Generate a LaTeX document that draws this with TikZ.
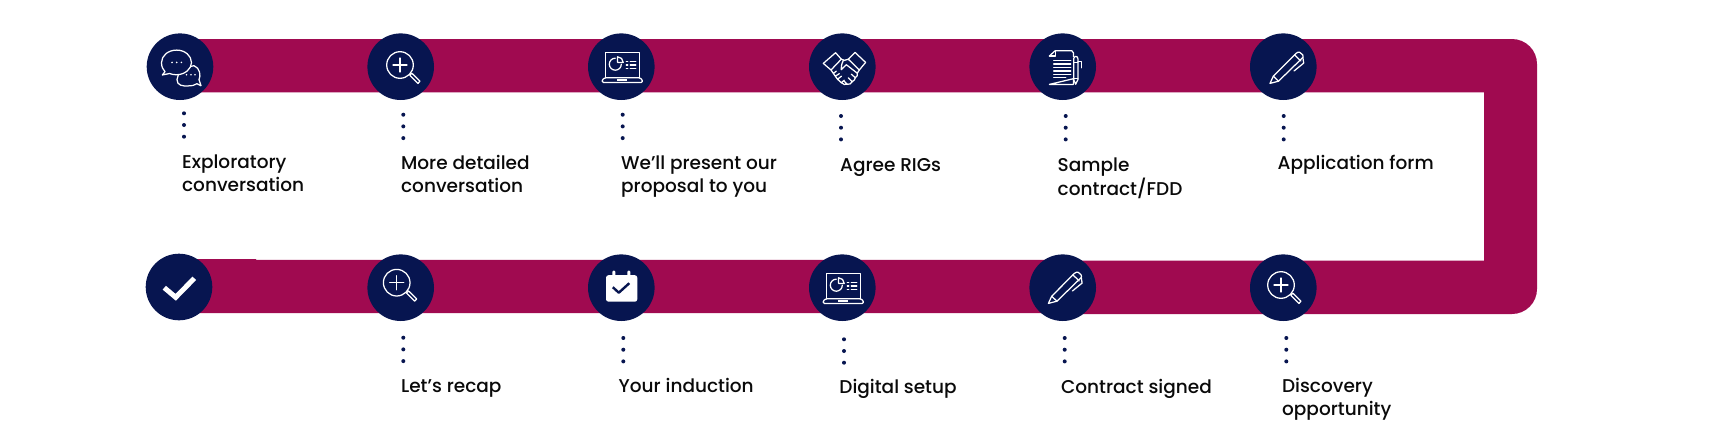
\documentclass[tikz,border=0pt]{standalone}
\usepackage{fontspec}
\usetikzlibrary{calc}
\setmainfont{Poppins Medium}
\definecolor{band}{HTML}{A00A50}
\definecolor{navy}{HTML}{071550}
\definecolor{ink}{HTML}{0A0A0A}
\tikzset{
  stepdisc/.style={circle,fill=navy,minimum size=66.6pt,inner sep=0pt},
  dotmark/.style={circle,fill=navy,minimum size=4pt,inner sep=0pt},
  steplabel/.style={anchor=base west,inner sep=0pt,xshift=-0.8pt,text=ink,align=left,font=\fontsize{18.5}{23}\selectfont},
  iconline/.style={draw=white,line width=1.25pt,line join=round,line cap=round},
  pics/lensicon/.style={code={
    \draw[iconline] (0,0) circle (13.3);
    \draw[iconline] (-7,0) -- (7,0) (0,-7) -- (0,7);
    \draw[iconline] (9.8,10.2) -- (11.8,8.2) -- (20,16.2) -- (18,18.4) -- cycle;
  }},
  pics/laptopicon/.style={code={
    \draw[iconline] (-16,11) -- (-16,-14.5) -- (18,-14.5) -- (18,11);
    \draw[iconline,rounded corners=1pt] (-16,11) -- (18,11) -- (21,13) -- (21,15.7) -- (-19,15.7) -- (-19,13) -- cycle;
    \draw[white,line width=1.6pt] (-4,13.2) -- (6,13.2);
    \draw[iconline] (-6,-8.5) arc (-90:-360:6);
    \draw[iconline] (-3.7,-10) -- (-3.7,-4.3) -- (1.9,-4.3) arc (0:-90:5.6) -- cycle;
    \draw[iconline] (5,-5.5) -- (6.5,-5.5) (9,-5.5) -- (14.5,-5.5)
      (5,-1.8) -- (6.5,-1.8) (9,-1.8) -- (14.5,-1.8)
      (5,2) -- (6.5,2) (9,2) -- (14.5,2);
  }},
  pics/penicon/.style={code={
    \draw[iconline] (-13.3,16.7) -- (-10,9.5) -- (12.7,-13.3) .. controls (15,-15.5) and (18,-14.5) .. (19.3,-12) .. controls (20,-10.5) and (20,-9.5) .. (19.3,-9) -- (-4.8,14.5) -- cycle;
    \draw[iconline] (-10,9.5) -- (-4.8,14.5);
    \draw[iconline] (19.6,-9) -- (20.4,-3.6) -- (10.7,4.3);
    \draw[iconline] (11.2,-11.8) -- (17.5,-5.8);
  }}
}
\begin{document}
\begin{tikzpicture}[x=1pt,y=-1pt]
\useasboundingbox[fill=white] (0,0) rectangle (1709,447);
% ribbon
\fill[band] (180,39) -- (1512,39) arc (-90:0:25) -- (1537,289) arc (0:90:25)
  -- (1062,314) -- (1062,313) -- (180,313) -- (180,259) -- (256,259) -- (256,259.8)
  -- (1062,259.8) -- (1062,260.7) -- (1484,260.7) -- (1484,92.3) -- (180,92.3) -- cycle;
% discs
\node[stepdisc] (a1) at (180,66.7) {};
\node[stepdisc] (a2) at (400.7,66.7) {};
\node[stepdisc] (a3) at (621.3,66.7) {};
\node[stepdisc] (a4) at (842.3,66.7) {};
\node[stepdisc] (a5) at (1062.7,66.7) {};
\node[stepdisc] (a6) at (1283.3,66.7) {};
\node[stepdisc] (b1) at (179,287) {};
\node[stepdisc] (b2) at (400.7,287.7) {};
\node[stepdisc] (b3) at (621.3,287.7) {};
\node[stepdisc] (b4) at (842.3,287.7) {};
\node[stepdisc] (b5) at (1062.7,287.7) {};
\node[stepdisc] (b6) at (1283.3,287.7) {};
% dots
\foreach \n/\x/\y in {da/184/113.3,db/403.3/114.7,dc/622.7/114.7,dd/841/116,de/1065.7/116,df/1283.7/116,
  dg/403.3/337.7,dh/623.3/338,di/844/339.3,dj/1064.7/338,dk/1286.3/338}{
  \node[dotmark] (\n1) at (\x,\y) {};
  \node[dotmark] (\n2) at (\x,\y+11.7) {};
  \node[dotmark] (\n3) at (\x,\y+23.4) {};
}
% labels
\node[steplabel] (l1) at (182.7,168) {Exploratory};
\node[steplabel] (l1b) at (182.7,191.7) {conversation};
\node[steplabel] (l2) at (401.7,169.3) {More detailed};
\node[steplabel] (l2b) at (401.7,192) {conversation};
\node[steplabel] (l3) at (621.7,169.3) {We’ll present our};
\node[steplabel] (l3b) at (621.7,192.7) {proposal to you};
\node[steplabel] (l4) at (840.7,171.7) {Agree RIGs};
\node[steplabel] (l5) at (1058.3,171.7) {Sample};
\node[steplabel] (l5b) at (1058.3,195) {contract/FDD};
\node[steplabel] (l6) at (1278.3,169.3) {Application form};
\node[steplabel] (l7) at (401.7,392.7) {Let’s recap};
\node[steplabel] (l8) at (619.3,392.7) {Your induction};
\node[steplabel] (l9) at (840,393.3) {Digital setup};
\node[steplabel] (l10) at (1061.7,393) {Contract signed};
\node[steplabel] (l11) at (1282.7,392.7) {Discovery};
\node[steplabel] (l11b) at (1282.7,415) {opportunity};
% chat icon
\begin{scope}[shift={(a1.center)}]
  \draw[iconline,fill=navy] (-3,13) .. controls (-3,19) and (3,19.5) .. (8,19.2) .. controls (12,19.2) and (15,18.5) .. (17,17) -- (21,19) -- (19,13) .. controls (21,9) and (20,1) .. (14,-1) -- (0,2) -- cycle;
  \draw[iconline,fill=navy] (-3.3,-16.6) .. controls (-12,-16.6) and (-18.5,-11) .. (-18.5,-4) .. controls (-18.5,0) and (-17,3) .. (-15,5) -- (-17.7,8.3) -- (-10.5,6.8) .. controls (-8,8) and (-5.5,8) .. (-3.3,8) .. controls (5,8) and (11.5,2) .. (11.5,-4) .. controls (11.5,-11) and (5,-16.6) .. (-3.3,-16.6) -- cycle;
  \foreach \q in {-8,-3.3,1.4}{\fill[white] (\q,-4.3) circle (0.9);}
  \foreach \q in {6.5,11,15}{\fill[white] (\q,8) circle (0.9);}
\end{scope}
% lens icons
\pic at ($(a2.center)+(-0.7,-1.7)$) {lensicon};
\pic at ($(b2.center)+(-4,-5)$) {lensicon};
\pic at ($(b6.center)+(-2.3,-2.7)$) {lensicon};
% laptops
\pic at (a3.center) {laptopicon};
\pic at (b4.center) {laptopicon};
% handshake
\begin{scope}[shift={(a4.center)}]
  \draw[iconline] (-6.7,-14) -- (-19,-3.3) -- (-11.3,3.3) -- (-1,-7.5) -- cycle;
  \draw[iconline] (12.7,-14.3) -- (23.3,-4.3) -- (17,3.3) -- (6,-7.5) -- cycle;
  \draw[iconline] (-1,-7.5) -- (2,-6.5) (6,-7.5) -- (1,-6) .. controls (-1,-3) and (-1,1) .. (-1,3) .. controls (1,1) and (3,-1) .. (4,-2) -- (15,6.5);
  \draw[iconline] (-11.3,3.3) -- (-9,6.7) -- (-6,4.5) (-9,6.7) -- (-7,9.5) -- (-3,7)  (-7,9.5) -- (-4.8,12.5) -- (-.8,9.5)
    (-4.8,12.5) -- (-1,16) -- (2,13.5) (-1,16) .. controls (1,18) and (3,18) .. (5,17.6) -- (1.5,14);
  \draw[iconline] (5,17.6) .. controls (7,18) and (9,17) .. (10,15) -- (6,11) (10,15) .. controls (12,14) and (13,12) .. (13,11) -- (9,7.5) (13,11) .. controls (15,10) and (15.5,8) .. (15,6.5) -- (17,3.3);
\end{scope}
% document
\begin{scope}[shift={(a5.center)}]
  \draw[iconline] (-13.3,-10.7) -- (-7.5,-16) -- (9,-16) -- (10.7,-14) -- (10.7,-10) (10.7,12) -- (10.7,17.7) -- (-13.3,17.7) -- cycle;
  \draw[iconline] (-13.3,-10.7) -- (-7.5,-10.7) -- (-7.5,-16);
  \draw[iconline] (-9,-6) -- (8,-6) (-9,-2.6) -- (8,-2.6) (-9,0.8) -- (8,0.8) (-9,4.2) -- (8,4.2) (-9,7.6) -- (8,7.6) (-9,11) -- (3,11);
  \draw[iconline] (11,-8) -- (11,13) -- (13,17.5) -- (15.2,13) -- (15.2,-8) .. controls (15.2,-11) and (11,-11) .. (11,-8) -- cycle;
  \draw[iconline] (11,-4.5) -- (15.2,-4.5) (11,11.5) -- (15.2,11.5) (15.2,-5) -- (18.5,-5) -- (18.5,1);
\end{scope}
% pens
\pic at (a6.center) {penicon};
\pic at ($(b5.center)+(-1,-1)$) {penicon};
% calendar
\begin{scope}[shift={(b3.center)}]
  \fill[white,rounded corners=2.5pt] (-15.3,-12.5) rectangle (16,14);
  \fill[white,rounded corners=1pt] (-9,-17) rectangle (-6,-10);
  \fill[white,rounded corners=1pt] (6,-17) rectangle (9,-10);
  \draw[navy,line width=2.4pt,line join=round] (-8.5,-0.5) -- (-2.5,5) -- (8,-4.5);
\end{scope}
% final check
\begin{scope}[shift={(b1.center)}]
  \draw[white,line width=5pt,line join=miter] (-14.7,0.7) -- (-3.3,10.3) -- (15.3,-8.7);
\end{scope}
\end{tikzpicture}
\end{document}
